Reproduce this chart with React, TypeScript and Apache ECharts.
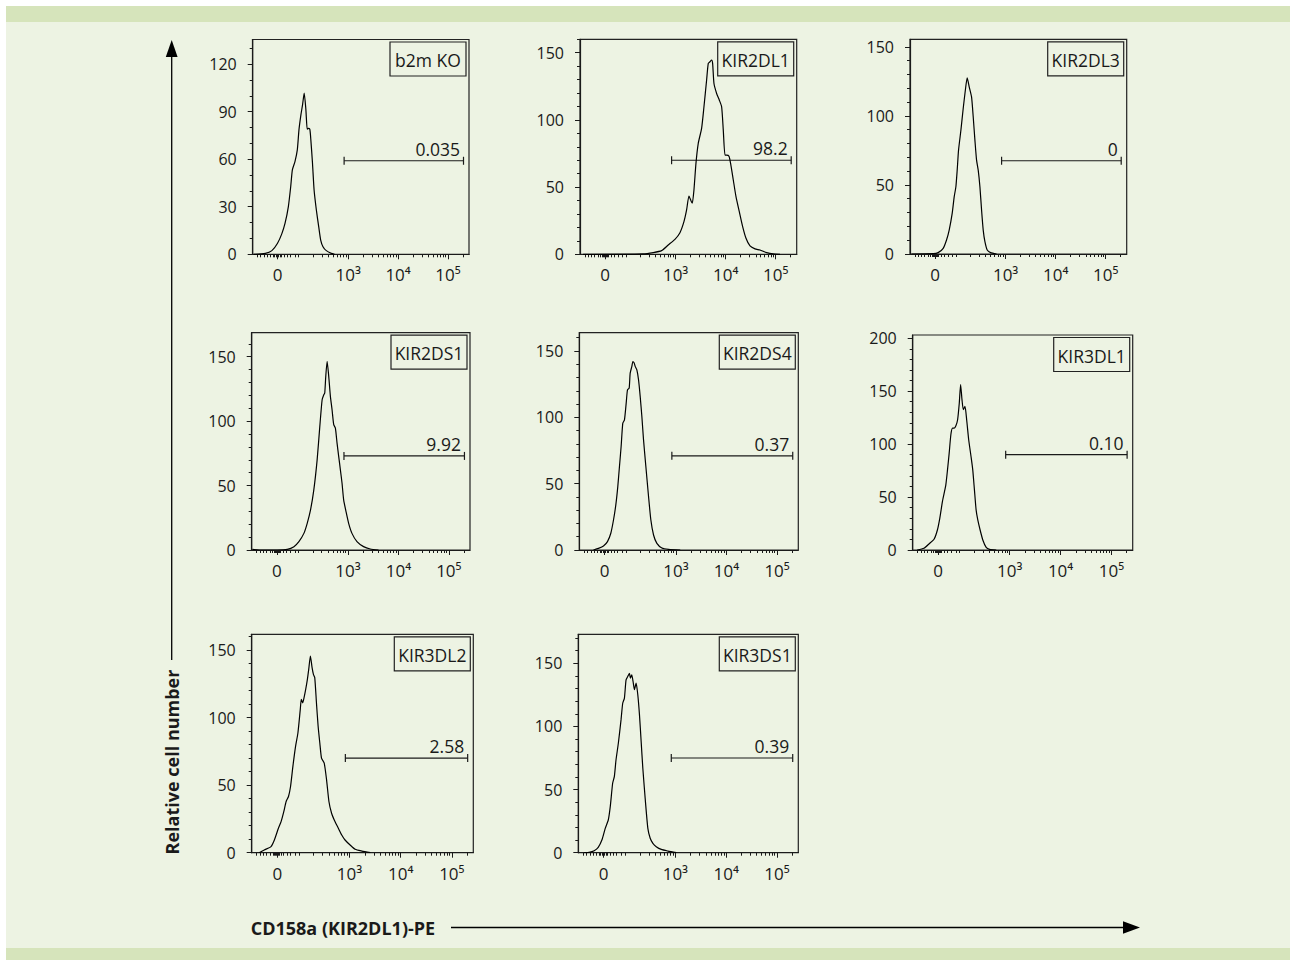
import React, { useEffect, useRef } from 'react';
import * as echarts from 'echarts';

// ---------------- data ----------------
const PANEL_NAMES = ['b2m KO', 'KIR2DL1', 'KIR2DL3', 'KIR2DS1', 'KIR2DS4', 'KIR3DL1', 'KIR3DL2', 'KIR3DS1'];
const GATE_LABELS = ['0.035', '98.2', '0', '9.92', '0.37', '0.10', '2.58', '0.39'];
const GATE_LEVELS = [59, 70, 67.5, 73, 71, 90, 70, 75];
const GATE_RANGE = [2.92, 5.31];
const Y_MAX = [135.5, 160, 155.4, 168.6, 163.8, 203, 161.6, 173];
const Y_MAJOR = [
  [0, 30, 60, 90, 120],
  [0, 50, 100, 150],
  [0, 50, 100, 150],
  [0, 50, 100, 150],
  [0, 50, 100, 150],
  [0, 50, 100, 150, 200],
  [0, 50, 100, 150],
  [0, 50, 100, 150],
];
const Y_MINOR_STEP = 10;
// x axis in display units: 10^3 -> 3, 10^4 -> 4, 10^5 -> 5 (biexponential display)
const X_RANGE = [1.09, 5.42];
const X_TICK_VALUES = [1.59, 3, 4, 5];
const X_TICK_LABELS = ['0', '10³', '10⁴', '10⁵'];
const X_MINOR_TICKS = [
  1.185, 1.251, 1.317, 1.383, 1.449, 1.502, 1.528, 1.554, 1.572, 1.607, 1.634, 1.66, 1.713, 1.779, 1.845, 1.944, 2.01,
  2.301, 2.477, 2.602, 2.699, 2.778, 2.845, 2.903, 2.954,
  3.301, 3.477, 3.602, 3.699, 3.778, 3.845, 3.903, 3.954,
  4.301, 4.477, 4.602, 4.699, 4.778, 4.845, 4.903, 4.954,
  5.301,
];

const HIST_B2M_KO = [
  [1.111, 0], [1.342, 0.6], [1.474, 2.3], [1.587, 7.0], [1.672, 12.9], [1.738, 19.6], [1.804, 30.1],
  [1.851, 42.7], [1.884, 53.3], [1.936, 58.5], [1.983, 65.9], [2.016, 78.5], [2.055, 88.0], [2.088, 94.3],
  [2.121, 101.7], [2.154, 91.6], [2.181, 78.9], [2.2, 79.4], [2.233, 78.9], [2.253, 72.6], [2.286, 57.9],
  [2.319, 40.6], [2.365, 27.8], [2.412, 17.3], [2.451, 9.0], [2.497, 4.8], [2.564, 2.3], [2.663, 0.6], [2.729, 0],
];
const HIST_KIR2DL1 = [
  [1.153, 0], [2.353, 0.25], [2.553, 1.24], [2.72, 2.73], [2.853, 6.94], [2.987, 11.16], [3.087, 16.1],
  [3.167, 24.3], [3.22, 33.0], [3.267, 43.4], [3.307, 39.9], [3.333, 38.0], [3.367, 47.9], [3.407, 67.7],
  [3.453, 82.6], [3.52, 93.7], [3.567, 109.8], [3.62, 129.7], [3.653, 142.1], [3.687, 143.3], [3.72, 144.6],
  [3.74, 142.1], [3.767, 127.1], [3.82, 119.7], [3.873, 114.8], [3.92, 109.8], [3.953, 92.4], [3.987, 73.8],
  [4.02, 73.8], [4.067, 73.0], [4.1, 67.5], [4.153, 55.3], [4.207, 42.9], [4.273, 31.7], [4.34, 20.6],
  [4.407, 11.9], [4.487, 6.2], [4.587, 4.0], [4.687, 3.2], [4.82, 1.24], [4.953, 0.25], [5.087, 0],
];
const HIST_KIR2DL3 = [
  [1.12, 0], [1.553, 0.24], [1.653, 1.0], [1.753, 4.1], [1.82, 10.1], [1.873, 17.3], [1.933, 29.4],
  [1.973, 41.4], [2.007, 48.7], [2.033, 60.7], [2.06, 75.2], [2.107, 89.6], [2.153, 105.3], [2.2, 119.8],
  [2.233, 127.5], [2.273, 121.0], [2.32, 113.7], [2.353, 99.3], [2.387, 82.4], [2.42, 67.9], [2.453, 60.7],
  [2.487, 48.7], [2.52, 31.8], [2.553, 17.3], [2.587, 8.9], [2.633, 2.9], [2.7, 1.0], [2.82, 0],
];
const HIST_KIR2DS1 = [
  [1.105, 0.5], [1.237, 0], [1.599, 0], [1.796, 0.5], [1.928, 2.6], [2.026, 6.5], [2.125, 12.9], [2.191, 20.7],
  [2.257, 31.1], [2.322, 46.6], [2.388, 69.9], [2.441, 95.9], [2.487, 116.6], [2.52, 120.5], [2.539, 121.8],
  [2.559, 134.7], [2.586, 146.4], [2.618, 134.7], [2.651, 119.2], [2.684, 108.8], [2.717, 97.2], [2.75, 94.6],
  [2.783, 82.9], [2.816, 72.5], [2.849, 62.2], [2.882, 51.8], [2.914, 38.9], [2.961, 29.8], [3.013, 20.7],
  [3.079, 12.9], [3.178, 6.5], [3.309, 2.6], [3.441, 0.8], [3.605, 0],
];
const HIST_KIR2DS4 = [
  [1.37, 0], [1.469, 1.26], [1.568, 3.0], [1.647, 6.3], [1.713, 12.6], [1.766, 22.6], [1.812, 34.0],
  [1.851, 47.8], [1.884, 62.9], [1.917, 78.0], [1.95, 95.6], [1.983, 98.1], [2.017, 110.7], [2.043, 120.8],
  [2.076, 122.0], [2.096, 133.3], [2.129, 138.4], [2.149, 142.1], [2.175, 140.9], [2.195, 138.4], [2.228, 135.8],
  [2.261, 128.3], [2.294, 115.7], [2.327, 100.6], [2.36, 83.0], [2.406, 62.9], [2.459, 40.3], [2.505, 22.6],
  [2.558, 11.3], [2.624, 5.0], [2.723, 1.5], [2.855, 0.5], [3.086, 0],
];
const HIST_KIR3DL1 = [
  [1.179, 0], [1.311, 1.6], [1.411, 5.7], [1.51, 10.1], [1.576, 18.9], [1.623, 29.9], [1.675, 45.7],
  [1.709, 53.6], [1.742, 61.5], [1.775, 75.7], [1.808, 91.5], [1.841, 108.8], [1.874, 115.1], [1.907, 115.1],
  [1.94, 117.4], [1.974, 123.0], [2.007, 138.8], [2.033, 156.2], [2.06, 142.0], [2.086, 132.5], [2.119, 135.6],
  [2.152, 123.0], [2.192, 104.1], [2.238, 88.3], [2.272, 75.7], [2.305, 56.8], [2.338, 37.9], [2.371, 28.4],
  [2.417, 18.9], [2.47, 9.5], [2.536, 2.5], [2.603, 0.6], [2.735, 0],
];
const HIST_KIR3DL2 = [
  [1.237, 0], [1.336, 2.0], [1.467, 4.5], [1.533, 9.4], [1.612, 18.1], [1.664, 23.0], [1.717, 30.4],
  [1.763, 37.9], [1.809, 41.6], [1.849, 49.0], [1.895, 63.9], [1.947, 78.7], [1.993, 88.6], [2.039, 105.9],
  [2.059, 113.4], [2.086, 110.9], [2.112, 114.6], [2.145, 120.8], [2.178, 128.2], [2.204, 135.6], [2.237, 145.5],
  [2.27, 136.9], [2.296, 131.9], [2.322, 129.5], [2.355, 111.0], [2.388, 93.6], [2.421, 81.2], [2.454, 70.0],
  [2.507, 66.3], [2.553, 53.9], [2.599, 37.9], [2.651, 29.2], [2.717, 23.0], [2.783, 18.1], [2.849, 13.1],
  [2.914, 9.4], [3.013, 5.7], [3.112, 2.5], [3.243, 1.2], [3.408, 0],
];
const HIST_KIR3DS1 = [
  [1.205, 0], [1.304, 0.3], [1.403, 1.6], [1.482, 4.2], [1.554, 10.0], [1.62, 19.3], [1.68, 25.9],
  [1.719, 36.5], [1.766, 55.0], [1.799, 60.2], [1.832, 73.4], [1.878, 86.7], [1.931, 105.2], [1.964, 118.4],
  [1.997, 122.3], [2.03, 136.9], [2.063, 139.6], [2.096, 142.1], [2.116, 138.2], [2.142, 140.9], [2.168, 135.6],
  [2.195, 129.1], [2.228, 134.4], [2.261, 125.1], [2.294, 109.2], [2.327, 88.1], [2.36, 66.9], [2.406, 43.1],
  [2.459, 19.3], [2.505, 11.4], [2.558, 7.4], [2.624, 4.8], [2.723, 2.6], [2.855, 1.3], [3.02, 0],
];
const HISTS = [HIST_B2M_KO, HIST_KIR2DL1, HIST_KIR2DL3, HIST_KIR2DS1, HIST_KIR2DS4, HIST_KIR3DL1, HIST_KIR3DL2, HIST_KIR3DS1];

const Y_TITLE = 'Relative cell number';
const X_TITLE = 'CD158a (KIR2DL1)-PE';

// ---------------- layout & style ----------------
const GRIDS = [
  { left: 252.7, top: 39.5, width: 216.3, height: 214.8 },
  { left: 580, top: 39.3, width: 216.7, height: 215 },
  { left: 910, top: 39.3, width: 216.7, height: 214.7 },
  { left: 251.7, top: 332.7, width: 218.3, height: 217.3 },
  { left: 579.3, top: 332.7, width: 219, height: 217.3 },
  { left: 912.7, top: 335, width: 220, height: 215 },
  { left: 251.7, top: 634.3, width: 221.6, height: 218.4 },
  { left: 578.3, top: 634.3, width: 220, height: 218.4 },
];
const FONT = '"Open Sans", "Noto Sans", sans-serif';
const INK = '#1a1a1a';
const BAND = '#d6e4bb';
const PANEL_BG = '#edf3e3';

function minorTicks(max: number, major: number[]) {
  const out: number[] = [];
  for (let v = Y_MINOR_STEP; v <= max; v += Y_MINOR_STEP) {
    if (!major.includes(v)) out.push(v);
  }
  return out;
}

function xLabel(v: number) {
  const i = X_TICK_VALUES.findIndex((t) => Math.abs(t - v) < 1e-6);
  return i >= 0 ? X_TICK_LABELS[i] : '';
}

function buildOption() {
  const grid: any[] = [];
  const xAxis: any[] = [];
  const yAxis: any[] = [];
  const series: any[] = [];
  const graphic: any[] = [];

  // background
  graphic.push({ type: 'rect', z: -100, shape: { x: 6, y: 6, width: 1290, height: 960 }, style: { fill: BAND } });
  graphic.push({ type: 'rect', z: -99, shape: { x: 6, y: 22, width: 1290, height: 926 }, style: { fill: PANEL_BG } });

  GRIDS.forEach((g, i) => {
    grid.push({
      left: g.left, top: g.top, width: g.width, height: g.height,
      show: true, borderColor: '#222', borderWidth: 1.2, backgroundColor: 'transparent',
      containLabel: false, outerBoundsMode: 'none',
    });
    const common = { gridIndex: i, type: 'value', splitLine: { show: false } };
    xAxis.push({
      ...common, min: X_RANGE[0], max: X_RANGE[1], position: 'bottom',
      axisLine: { show: true, onZero: false, lineStyle: { color: INK, width: 1.2 } },
      axisTick: { show: true, customValues: X_TICK_VALUES, length: 5, lineStyle: { color: INK, width: 1 } },
      axisLabel: { show: true, customValues: X_TICK_VALUES, formatter: xLabel, margin: 12, fontSize: 17, fontFamily: FONT, color: INK },
    });
    xAxis.push({
      ...common, min: X_RANGE[0], max: X_RANGE[1], position: 'bottom',
      axisLine: { show: false, onZero: false },
      axisTick: { show: true, customValues: X_MINOR_TICKS, length: 3, lineStyle: { color: INK, width: 1 } },
      axisLabel: { show: false },
    });
    yAxis.push({
      ...common, min: 0, max: Y_MAX[i], position: 'left',
      axisLine: { show: true, onZero: false, lineStyle: { color: INK, width: 1.2 } },
      axisTick: { show: true, customValues: Y_MAJOR[i], length: 5, lineStyle: { color: INK, width: 1 } },
      axisLabel: { show: true, customValues: Y_MAJOR[i], margin: 16, fontSize: 16, fontFamily: FONT, color: INK },
    });
    yAxis.push({
      ...common, min: 0, max: Y_MAX[i], position: 'left',
      axisLine: { show: false, onZero: false },
      axisTick: { show: true, customValues: minorTicks(Y_MAX[i], Y_MAJOR[i]), length: 3, lineStyle: { color: INK, width: 1 } },
      axisLabel: { show: false },
    });
    series.push({
      type: 'line', xAxisIndex: 2 * i, yAxisIndex: 2 * i, data: HISTS[i],
      showSymbol: false, symbol: 'none', smooth: 0.2, silent: true,
      lineStyle: { color: '#000', width: 1.2 },
    });
    series.push({
      type: 'custom', xAxisIndex: 2 * i, yAxisIndex: 2 * i, silent: true,
      data: [[GATE_RANGE[0], GATE_RANGE[1], GATE_LEVELS[i]]],
      renderItem: (params: any, api: any) => {
        const p1 = api.coord([api.value(0), api.value(2)]);
        const p2 = api.coord([api.value(1), api.value(2)]);
        const ls = { stroke: INK, lineWidth: 1.2 };
        return {
          type: 'group',
          children: [
            { type: 'line', shape: { x1: p1[0], y1: p1[1], x2: p2[0], y2: p2[1] }, style: ls },
            { type: 'line', shape: { x1: p1[0], y1: p1[1] - 4, x2: p1[0], y2: p1[1] + 4 }, style: ls },
            { type: 'line', shape: { x1: p2[0], y1: p2[1] - 4, x2: p2[0], y2: p2[1] + 4 }, style: ls },
            {
              type: 'text', x: p2[0] - 3.5, y: p2[1] - 3,
              style: { text: GATE_LABELS[i], align: 'right', verticalAlign: 'bottom', fontSize: 17.5, fontFamily: FONT, fill: INK },
            },
          ],
        };
      },
    });
    // name box
    const bw = 76, bh = 34;
    const bx = g.left + g.width - 3 - bw;
    const by = g.top + 2.5;
    graphic.push({ type: 'rect', shape: { x: bx, y: by, width: bw, height: bh }, style: { fill: 'none', stroke: '#222', lineWidth: 1.2 } });
    graphic.push({
      type: 'text', x: bx + bw / 2, y: by + bh / 2 + 1,
      style: { text: PANEL_NAMES[i], align: 'center', verticalAlign: 'middle', fontSize: 17.5, fontFamily: FONT, fill: INK },
    });
  });

  // y arrow + title
  graphic.push({ type: 'line', shape: { x1: 171.7, y1: 55, x2: 171.7, y2: 660 }, style: { stroke: '#000', lineWidth: 1.3 } });
  graphic.push({ type: 'polygon', shape: { points: [[165.8, 57], [177.6, 57], [171.7, 40]] }, style: { fill: '#000' } });
  graphic.push({
    type: 'text', x: 171.7, y: 762, rotation: Math.PI / 2,
    style: { text: Y_TITLE, align: 'center', verticalAlign: 'middle', fontSize: 18, fontWeight: 'bold', fontFamily: FONT, fill: INK },
  });
  // x arrow + title
  graphic.push({
    type: 'text', x: 250.7, y: 927.5,
    style: { text: X_TITLE, align: 'left', verticalAlign: 'middle', fontSize: 18, fontWeight: 'bold', fontFamily: FONT, fill: INK },
  });
  graphic.push({ type: 'line', shape: { x1: 451, y1: 927.5, x2: 1125, y2: 927.5 }, style: { stroke: '#000', lineWidth: 1.3 } });
  graphic.push({ type: 'polygon', shape: { points: [[1123, 921.3], [1123, 933.7], [1140, 927.5]] }, style: { fill: '#000' } });

  return {
    animation: false,
    backgroundColor: '#ffffff',
    textStyle: { fontFamily: FONT },
    grid, xAxis, yAxis, series,
    graphic: { elements: graphic },
  };
}

export default function App() {
  const ref = useRef<HTMLDivElement>(null);
  useEffect(() => {
    document.body.style.margin = '0';
    const chart = echarts.init(ref.current!, undefined, { renderer: 'svg' });
    chart.setOption(buildOption() as any);
    return () => chart.dispose();
  }, []);
  return <div ref={ref} style={{ width: 1290, height: 960 }} />;
}
